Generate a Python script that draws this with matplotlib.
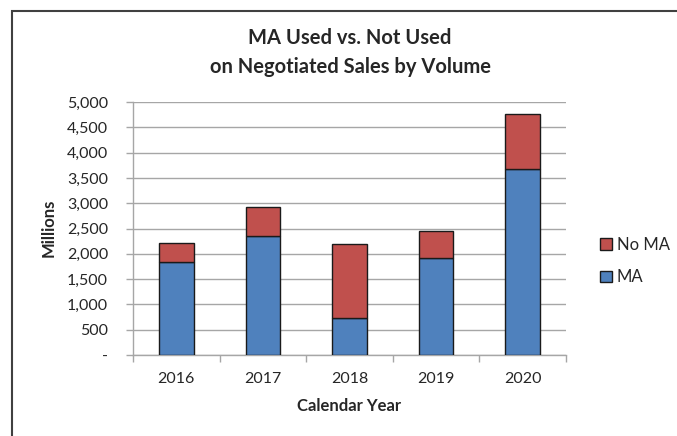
import matplotlib.pyplot as plt
import matplotlib.patches as mpatches
from matplotlib.ticker import FuncFormatter, FixedLocator
import numpy as np

# Data (millions)
years = ['2016', '2017', '2018', '2019', '2020']
ma = [1846, 2361, 732, 1913, 3680]
no_ma = [376, 567, 1458, 534, 1074]

blue = '#4f81bd'
red = '#c0504d'
grid_col = '#a6a6a6'
text_col = '#262626'

plt.rcParams['font.family'] = ['Lato', 'DejaVu Sans']

fig = plt.figure(figsize=(6.77, 4.36), dpi=100)
ax = fig.add_axes([133 / 677, 1 - 355 / 436, (566 - 133) / 677, (355 - 102) / 436])

x = np.arange(len(years))
w = 0.40
ax.bar(x, ma, w, color=blue, edgecolor='#1a1a1a', linewidth=1.0, label='MA', zorder=3)
ax.bar(x, no_ma, w, bottom=ma, color=red, edgecolor='#1a1a1a', linewidth=1.0, label='No MA', zorder=3)

ax.set_xlim(-0.5, len(years) - 0.5)
ax.set_ylim(0, 5000)
ax.set_yticks(np.arange(0, 5001, 500))
ax.yaxis.set_major_formatter(FuncFormatter(lambda v, p: '-' if v == 0 else f'{int(v):,}'))
ax.grid(axis='y', color=grid_col, linewidth=1.0, zorder=0)

ax.set_xticks(x)
ax.set_xticklabels(years)
ax.xaxis.set_minor_locator(FixedLocator(np.arange(-0.5, len(years), 1.0)))
ax.tick_params(axis='x', which='major', length=0, pad=12, labelsize=11.5, labelcolor=text_col)
ax.tick_params(axis='x', which='minor', length=5, color=grid_col, width=1.0)
ax.tick_params(axis='y', length=5, color=grid_col, width=1.0, pad=13, labelsize=11.5, labelcolor=text_col)

for s in ['top', 'right']:
    ax.spines[s].set_visible(False)
for s in ['left', 'bottom']:
    ax.spines[s].set_color(grid_col)
    ax.spines[s].set_linewidth(1.0)

ax.set_xlabel('Calendar Year', fontsize=12, fontweight='bold', color=text_col, labelpad=9)
fig.text(49 / 677, 1 - 228 / 436, 'Millions', rotation=90, fontsize=12, fontweight='bold',
         color=text_col, ha='center', va='center')

fig.text(350 / 677, 1 - 38 / 436, 'MA Used vs. Not Used', fontsize=14.5, fontweight='bold',
         color=text_col, ha='center', va='center')
fig.text(350 / 677, 1 - 67 / 436, 'on Negotiated Sales by Volume', fontsize=14.5, fontweight='bold',
         color=text_col, ha='center', va='center')

# legend
handles = [mpatches.Patch(facecolor=red, edgecolor='#1a1a1a', label='No MA'),
           mpatches.Patch(facecolor=blue, edgecolor='#1a1a1a', label='MA')]
fig.legend(handles=handles, loc='center left', bbox_to_anchor=(585 / 677, 1 - 261 / 436),
           frameon=False, fontsize=12, handlelength=0.7, handleheight=0.7,
           handletextpad=0.3, labelspacing=1.0, labelcolor=text_col)

# outer chart border (left and top visible)
fig.patches.append(mpatches.Rectangle((12 / 677, -0.1), 1.1, 1 - 11 / 436 + 0.1,
                                      transform=fig.transFigure, fill=False,
                                      edgecolor='#404040', linewidth=1.5))

fig.savefig('out.png', dpi=100)
